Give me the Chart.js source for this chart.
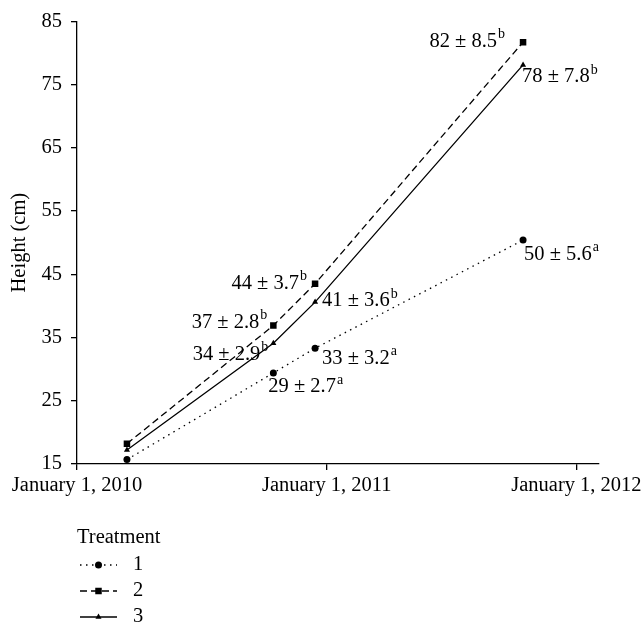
<!DOCTYPE html>
<html>
<head>
<meta charset="utf-8">
<script src="https://cdn.jsdelivr.net/npm/chart.js@4.4.1/dist/chart.umd.min.js"></script>
<style>
  html, body { margin: 0; padding: 0; background: #fff; }
  #wrap { width: 643px; height: 631px; position: relative; }
</style>
</head>
<body>
<div id="wrap"><canvas id="heightChart"></canvas></div>
<script>
// Sampling dates
const sampleDates = ['2010-03-15', '2010-10-15', '2010-12-15', '2011-10-15'];

// Mean plant height (cm) per treatment
const treatment1 = [15.7, 29.4, 33.3, 50.4];
const treatment2 = [18.2, 36.9, 43.5, 81.7];
const treatment3 = [17.2, 34.1, 40.6, 78.1];

// Mean ± SD annotations and significance letters (none on the first date)
const text1 = [null, '29 ± 2.7', '33 ± 3.2', '50 ± 5.6'];
const text2 = [null, '37 ± 2.8', '44 ± 3.7', '82 ± 8.5'];
const text3 = [null, '34 ± 2.9', '41 ± 3.6', '78 ± 7.8'];
const letters1 = [null, 'a', 'a', 'a'];
const letters2 = [null, 'b', 'b', 'b'];
const letters3 = [null, 'b', 'b', 'b'];

// Axes
const xStart = '2010-01-01';
const xEnd = '2012-02-03';
const xTickDates = ['2010-01-01', '2011-01-01', '2012-01-01'];
const xTickLabels = ['January 1, 2010', 'January 1, 2011', 'January 1, 2012'];
const yTicks = [15, 25, 35, 45, 55, 65, 75, 85];
const treatmentNames = ['1', '2', '3'];

const FONT = '"Liberation Serif", "Times New Roman", serif';
const FONT_SIZE = 20.5;
const mainFont = FONT_SIZE + 'px ' + FONT;
const supFont = '14px ' + FONT;

// day number counted from the start of the x axis
const dayOf = s => (Date.parse(s) - Date.parse(xStart)) / 86400000;
const sampleDays = sampleDates.map(dayOf);

// where each annotation sits relative to its point (px)
const placement = [
    [null, { side: 'start', dx: -5, dy: 14 }, { side: 'start', dx: 7, dy: 10 }, { side: 'start', dx: 1, dy: 14 }],
    [null, { side: 'end', dx: -6, dy: -3 }, { side: 'end', dx: -8, dy: 0 }, { side: 'end', dx: -18, dy: -1 }],
    [null, { side: 'end', dx: -5, dy: 11 }, { side: 'start', dx: 7, dy: -1 }, { side: 'start', dx: -1, dy: 12 }]
];

const seriesText = [text1, text2, text3];
const seriesLetters = [letters1, letters2, letters3];

function makeSet(name, values, dash, style, radius) {
    return {
        label: name,
        data: values.map((v, i) => ({ x: sampleDays[i], y: v })),
        borderColor: '#000',
        backgroundColor: '#000',
        borderWidth: 1.3,
        borderDash: dash,
        pointStyle: style,
        pointRadius: radius,
        pointBorderWidth: 0,
        pointBackgroundColor: '#000',
        tension: 0
    };
}

// Mean ± SD labels next to the points
const meanLabels = {
    id: 'meanLabels',
    afterDatasetsDraw(chart) {
        const ctx = chart.ctx;
        const xs = chart.scales.x, ys = chart.scales.y;
        ctx.save();
        ctx.fillStyle = '#000';
        ctx.textBaseline = 'middle';
        ctx.textAlign = 'left';
        chart.data.datasets.forEach((ds, si) => {
            seriesText[si].forEach((t, i) => {
                if (!t) return;
                const p = placement[si][i];
                const px = xs.getPixelForValue(ds.data[i].x);
                const py = ys.getPixelForValue(ds.data[i].y);
                ctx.font = mainFont;
                const w1 = ctx.measureText(t).width;
                ctx.font = supFont;
                const w2 = ctx.measureText(seriesLetters[si][i]).width;
                const x0 = p.side === 'end' ? px + p.dx - w1 - w2 - 1 : px + p.dx;
                const y0 = py + p.dy;
                ctx.font = mainFont;
                ctx.fillText(t, x0, y0);
                ctx.font = supFont;
                ctx.fillText(seriesLetters[si][i], x0 + w1 + 1, y0 - 7);
            });
        });
        ctx.restore();
    }
};

// Legend block under the axis
const treatmentLegend = {
    id: 'treatmentLegend',
    afterDraw(chart) {
        const ctx = chart.ctx;
        const left = chart.chartArea.left;
        ctx.save();
        ctx.fillStyle = '#000';
        ctx.strokeStyle = '#000';
        ctx.textBaseline = 'middle';
        ctx.textAlign = 'left';
        ctx.font = mainFont;
        ctx.fillText('Treatment', left, 538);
        chart.data.datasets.forEach((ds, i) => {
            const y = 565 + i * 26;
            ctx.lineWidth = ds.borderWidth;
            ctx.setLineDash(ds.borderDash);
            ctx.beginPath();
            ctx.moveTo(left + 3, y);
            ctx.lineTo(left + 40, y);
            ctx.stroke();
            ctx.setLineDash([]);
            Chart.helpers.drawPoint(ctx, {
                pointStyle: ds.pointStyle, radius: ds.pointRadius, borderWidth: 0, rotation: 0
            }, left + 21.5, y);
            ctx.font = mainFont;
            ctx.fillText(treatmentNames[i], left + 56, y);
        });
        ctx.restore();
    }
};

new Chart(document.getElementById('heightChart'), {
    type: 'line',
    data: {
        datasets: [
            makeSet(treatmentNames[0], treatment1, [1.5, 4.5], 'circle', 3.5),
            makeSet(treatmentNames[1], treatment2, [7, 4], 'rect', 4.6),
            makeSet(treatmentNames[2], treatment3, [], 'triangle', 3.5)
        ]
    },
    options: {
        responsive: true,
        maintainAspectRatio: false,
        animation: false,
        layout: { padding: { top: 15, right: 44, bottom: 127, left: 0 } },
        plugins: { legend: { display: false }, tooltip: { enabled: false } },
        scales: {
            x: {
                type: 'linear',
                min: dayOf(xStart),
                max: dayOf(xEnd),
                afterBuildTicks: s => { s.ticks = xTickDates.map(d => ({ value: dayOf(d) })); },
                afterFit: s => { s.height = 40; s.paddingRight = 30; },
                border: { color: '#000', width: 1.3 },
                grid: { drawOnChartArea: false, color: '#000', lineWidth: 1.3, tickLength: 6 },
                ticks: {
                    color: '#000', padding: 3, maxRotation: 0, autoSkip: false,
                    font: { family: FONT, size: FONT_SIZE },
                    callback: (v, i) => xTickLabels[i]
                }
            },
            y: {
                min: 15,
                max: 85,
                afterBuildTicks: s => { s.ticks = yTicks.map(v => ({ value: v })); },
                afterFit: s => { s.width = 77; },
                border: { color: '#000', width: 1.3 },
                grid: { drawOnChartArea: false, color: '#000', lineWidth: 1.3, tickLength: 6 },
                ticks: { color: '#000', padding: 9, font: { family: FONT, size: FONT_SIZE } },
                title: {
                    display: true, text: 'Height (cm)', color: '#000',
                    font: { family: FONT, size: FONT_SIZE }, padding: { top: 7, bottom: 0 }
                }
            }
        }
    },
    plugins: [meanLabels, treatmentLegend]
});
</script>
</body>
</html>
